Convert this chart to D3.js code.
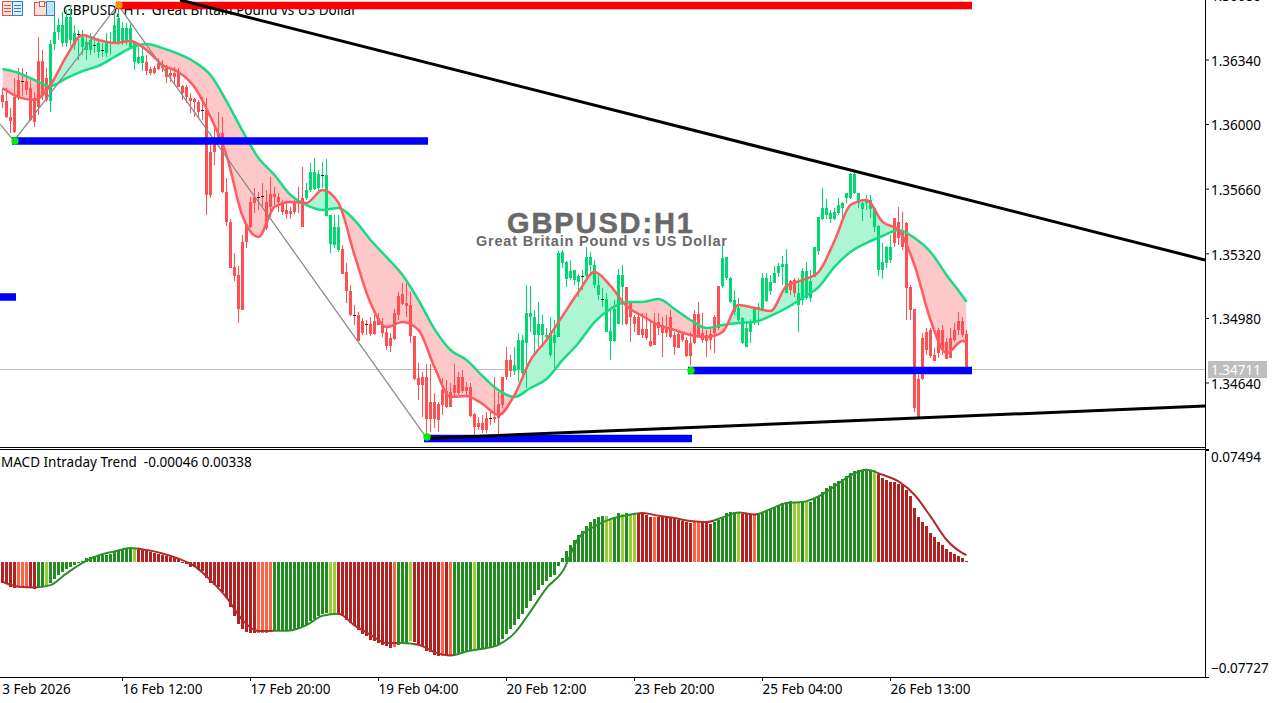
<!DOCTYPE html>
<html>
<head>
<meta charset="utf-8">
<title>GBPUSD H1</title>
<script src="https://cdn.jsdelivr.net/npm/d3@7"></script>
<style>
  html, body { margin: 0; padding: 0; background: #fff; overflow: hidden; }
  svg { display: block; font-family: "Noto Sans", sans-serif; }
  .axis text { font-family: "Noto Sans", sans-serif; font-size: 13.5px; fill: #000; }
  .axis line { stroke: #000; }
</style>
</head>
<body>
<div id="chart"></div>
<script>
// candles, one entry per H1 bar
const opens = [
1.36161,1.36129,1.36045,1.36150,1.36240,1.36235,1.36235,1.36198,1.36145,1.36340,
1.36340,1.36250,1.36129,1.36429,1.36493,1.36435,1.36435,1.36450,1.36424,1.36482,
1.36414,1.36398,1.36398,1.36424,1.36387,1.36398,1.36382,1.36440,1.36440,1.36440,
1.36440,1.36440,1.36408,1.36335,1.36329,1.36329,1.36335,1.36298,1.36303,1.36329,
1.36319,1.36314,1.36277,1.36277,1.36282,1.36208,1.36203,1.36145,1.36140,1.36124,
1.36082,1.36082,1.35861,1.35908,1.35961,1.35961,1.35650,1.35493,1.35256,1.35214,
1.35387,1.35477,1.35598,1.35624,1.35624,1.35629,1.35598,1.35640,1.35640,1.35624,
1.35593,1.35556,1.35550,1.35598,1.35603,1.35619,1.35619,1.35661,1.35666,1.35672,
1.35740,1.35524,1.35377,1.35372,1.35345,1.35350,1.35229,1.35129,1.35003,1.35003,
1.34972,1.34956,1.34956,1.34972,1.34987,1.34950,1.34914,1.34882,1.35014,1.35103,
1.35114,1.35066,1.35056,1.34893,1.34672,1.34677,1.34677,1.34545,1.34545,1.34535,
1.34608,1.34603,1.34598,1.34635,1.34677,1.34677,1.34624,1.34624,1.34482,1.34435,
1.34435,1.34461,1.34461,1.34466,1.34535,1.34677,1.34766,1.34766,1.34708,1.34714,
1.34698,1.34856,1.34993,1.34898,1.34898,1.34898,1.34887,1.34793,1.34856,1.34887,
1.35277,1.35193,1.35198,1.35187,1.35177,1.35208,1.35208,1.35266,1.35161,1.35108,
1.35087,1.34914,1.34866,1.34866,1.34956,1.35150,1.35150,1.35072,1.34993,1.34993,
1.34929,1.34929,1.34866,1.34966,1.34966,1.34950,1.34940,1.34993,1.34898,1.34903,
1.34903,1.34872,1.34856,1.35008,1.35008,1.34908,1.34898,1.34903,1.34993,1.35156,
1.35156,1.35198,1.35072,1.35019,1.34977,1.34856,1.34835,1.34914,1.34961,1.35029,
1.35035,1.35077,1.35129,1.35172,1.35224,1.35256,1.35119,1.35182,1.35187,1.35056,
1.35082,1.35093,1.35093,1.35203,1.35340,1.35508,1.35529,1.35508,1.35508,1.35540,
1.35566,1.35619,1.35619,1.35645,1.35593,1.35561,1.35593,1.35561,1.35466,1.35240,
1.35240,1.35277,1.35293,1.35514,1.35493,1.35451,1.35487,1.35150,1.35035,1.34666,
1.34882,1.34914,1.34924,1.34793,1.34924,1.34924,1.34861,1.34882,1.34924,1.34972,1.34972,1.34903];
const highs = [
1.36198,1.36198,1.36093,1.36250,1.36303,1.36303,1.36282,1.36240,1.36177,1.36466,
1.36398,1.36303,1.36450,1.36582,1.36566,1.36598,1.36608,1.36635,1.36529,1.36503,
1.36503,1.36477,1.36487,1.36466,1.36461,1.36435,1.36487,1.36493,1.36593,1.36635,
1.36545,1.36540,1.36540,1.36440,1.36414,1.36414,1.36372,1.36308,1.36314,1.36356,
1.36345,1.36319,1.36303,1.36308,1.36303,1.36214,1.36214,1.36172,1.36145,1.36135,
1.36150,1.36145,1.35940,1.36003,1.36072,1.36045,1.35724,1.35508,1.35329,1.35261,
1.35424,1.35477,1.35624,1.35672,1.35650,1.35698,1.35661,1.35729,1.35677,1.35645,
1.35608,1.35593,1.35572,1.35608,1.35677,1.35782,1.35698,1.35803,1.35829,1.35766,
1.35808,1.35824,1.35529,1.35529,1.35529,1.35372,1.35277,1.35161,1.35056,1.35019,
1.34987,1.34977,1.34993,1.35003,1.35014,1.34987,1.34935,1.34908,1.35035,1.35124,
1.35172,1.35172,1.35124,1.34893,1.34750,1.34703,1.34745,1.34745,1.34593,1.34545,
1.34672,1.34661,1.34645,1.34745,1.34703,1.34714,1.34650,1.34645,1.34487,1.34466,
1.34477,1.34493,1.34493,1.34677,1.34598,1.34677,1.34835,1.34793,1.34835,1.34908,
1.34898,1.35161,1.35156,1.35029,1.35072,1.35003,1.34935,1.34993,1.34977,1.35340,
1.35345,1.35287,1.35293,1.35240,1.35219,1.35240,1.35361,1.35335,1.35293,1.35214,
1.35145,1.35119,1.35040,1.35082,1.35245,1.35266,1.35150,1.35072,1.35003,1.35003,
1.35014,1.35014,1.34966,1.35014,1.35014,1.34993,1.35003,1.35029,1.34914,1.34924,
1.34914,1.34887,1.34914,1.35029,1.35072,1.35014,1.34924,1.34940,1.35003,1.35156,
1.35372,1.35308,1.35203,1.35135,1.35093,1.34993,1.34966,1.34982,1.35045,1.35066,
1.35224,1.35224,1.35214,1.35261,1.35277,1.35314,1.35350,1.35187,1.35198,1.35198,
1.35250,1.35282,1.35240,1.35361,1.35519,1.35672,1.35614,1.35556,1.35566,1.35619,
1.35598,1.35645,1.35750,1.35756,1.35645,1.35598,1.35635,1.35635,1.35572,1.35477,
1.35382,1.35366,1.35424,1.35514,1.35572,1.35545,1.35493,1.35161,1.35035,1.34687,
1.34908,1.34935,1.34935,1.34829,1.34935,1.34950,1.34882,1.34935,1.34961,1.35019,1.34993,1.34924];
const lows = [
1.36093,1.36040,1.35961,1.35961,1.36135,1.36156,1.36161,1.36024,1.35993,1.36056,
1.36135,1.36124,1.36072,1.36398,1.36450,1.36414,1.36414,1.36419,1.36398,1.36345,
1.36372,1.36345,1.36372,1.36382,1.36356,1.36361,1.36361,1.36372,1.36429,1.36424,
1.36424,1.36424,1.36408,1.36293,1.36324,1.36287,1.36266,1.36266,1.36272,1.36293,
1.36282,1.36224,1.36229,1.36214,1.36203,1.36135,1.36119,1.36066,1.36045,1.36040,
1.36029,1.35529,1.35619,1.35793,1.35935,1.35645,1.35472,1.35250,1.35182,1.34961,
1.35029,1.35356,1.35461,1.35540,1.35556,1.35572,1.35451,1.35519,1.35582,1.35545,
1.35529,1.35508,1.35508,1.35535,1.35540,1.35466,1.35608,1.35650,1.35661,1.35650,
1.35672,1.35524,1.35329,1.35356,1.35335,1.35219,1.35066,1.34998,1.34950,1.34866,
1.34898,1.34898,1.34893,1.34898,1.34950,1.34887,1.34819,1.34808,1.34872,1.34977,
1.35056,1.34993,1.34856,1.34661,1.34556,1.34466,1.34372,1.34387,1.34408,1.34387,
1.34477,1.34514,1.34519,1.34566,1.34582,1.34593,1.34582,1.34466,1.34372,1.34398,
1.34382,1.34382,1.34424,1.34435,1.34372,1.34514,1.34661,1.34677,1.34687,1.34650,
1.34687,1.34619,1.34914,1.34793,1.34835,1.34835,1.34861,1.34782,1.34724,1.34887,
1.35250,1.35150,1.35187,1.35161,1.35098,1.35135,1.35203,1.35214,1.35145,1.35082,
1.35045,1.34914,1.34766,1.34861,1.34956,1.34950,1.34950,1.34861,1.34914,1.34898,
1.34882,1.34872,1.34835,1.34845,1.34898,1.34782,1.34887,1.34882,1.34793,1.34829,
1.34861,1.34782,1.34740,1.34850,1.34882,1.34856,1.34782,1.34819,1.34803,1.34924,
1.35145,1.35187,1.35066,1.35003,1.34966,1.34850,1.34835,1.34856,1.34950,1.34950,
1.35029,1.35072,1.35108,1.35172,1.35203,1.35161,1.35119,1.35108,1.35098,1.34914,
1.35056,1.35082,1.35072,1.35203,1.35319,1.35503,1.35508,1.35487,1.35503,1.35529,
1.35503,1.35593,1.35614,1.35640,1.35566,1.35498,1.35556,1.35514,1.35440,1.35208,
1.35193,1.35250,1.35277,1.35361,1.35372,1.35345,1.34977,1.34977,1.34493,1.34461,
1.34661,1.34793,1.34777,1.34761,1.34777,1.34793,1.34772,1.34777,1.34861,1.34898,1.34887,1.34714];
const closes = [
1.36124,1.36045,1.36024,1.35966,1.36150,1.36235,1.36187,1.36029,1.36019,1.36098,
1.36161,1.36135,1.36429,1.36493,1.36529,1.36529,1.36572,1.36572,1.36487,1.36482,
1.36466,1.36440,1.36450,1.36424,1.36435,1.36398,1.36440,1.36440,1.36529,1.36566,
1.36514,1.36514,1.36514,1.36435,1.36361,1.36366,1.36287,1.36277,1.36277,1.36298,
1.36303,1.36256,1.36261,1.36256,1.36203,1.36172,1.36150,1.36129,1.36124,1.36072,
1.36082,1.35635,1.35635,1.35861,1.35940,1.35650,1.35493,1.35250,1.35208,1.35035,
1.35029,1.35387,1.35466,1.35593,1.35624,1.35629,1.35461,1.35572,1.35624,1.35598,
1.35545,1.35535,1.35535,1.35545,1.35598,1.35466,1.35661,1.35756,1.35756,1.35745,
1.35740,1.35740,1.35529,1.35466,1.35466,1.35219,1.35129,1.35003,1.35003,1.34866,
1.34908,1.34956,1.34903,1.34903,1.34950,1.34908,1.34840,1.34840,1.34877,1.35003,
1.35061,1.35050,1.34893,1.34666,1.34635,1.34635,1.34456,1.34456,1.34456,1.34451,
1.34529,1.34519,1.34519,1.34593,1.34593,1.34603,1.34603,1.34472,1.34414,1.34414,
1.34398,1.34398,1.34461,1.34456,1.34461,1.34529,1.34677,1.34708,1.34740,1.34872,
1.34872,1.35014,1.35014,1.34993,1.34956,1.34956,1.34898,1.34908,1.34898,1.35329,
1.35335,1.35282,1.35235,1.35240,1.35208,1.35208,1.35308,1.35308,1.35266,1.35161,
1.35087,1.35087,1.34919,1.35035,1.35214,1.35214,1.34956,1.34993,1.34956,1.34898,
1.34898,1.34882,1.34840,1.34845,1.34935,1.34908,1.34908,1.34887,1.34835,1.34829,
1.34872,1.34787,1.34787,1.34856,1.34887,1.34872,1.34866,1.34872,1.34908,1.34935,
1.35303,1.35308,1.35198,1.35082,1.35040,1.34987,1.34935,1.34961,1.35040,1.35045,
1.35198,1.35198,1.35177,1.35224,1.35261,1.35272,1.35272,1.35135,1.35119,1.35119,
1.35235,1.35235,1.35182,1.35361,1.35519,1.35566,1.35566,1.35540,1.35545,1.35582,
1.35593,1.35645,1.35745,1.35745,1.35645,1.35593,1.35608,1.35608,1.35566,1.35472,
1.35282,1.35361,1.35361,1.35382,1.35408,1.35361,1.35145,1.35029,1.34514,1.34466,
1.34666,1.34819,1.34787,1.34761,1.34803,1.34819,1.34772,1.34777,1.34872,1.34924,1.34898,1.34711];

// moving averages, read every 4th bar plus the last one
const maBars = d3.range(0, 241, 4).concat(241);
const fastMa = [
1.36198,1.36150,1.36135,1.36214,1.36366,1.36477,1.36450,1.36435,1.36445,1.36398,
1.36319,1.36282,1.36203,1.36045,1.35845,1.35524,1.35414,1.35572,1.35598,1.35593,
1.35661,1.35593,1.35319,1.35066,1.34940,1.34966,1.34924,1.34729,1.34572,1.34577,
1.34535,1.34477,1.34582,1.34766,1.34872,1.34998,1.35124,1.35229,1.35156,1.35050,
1.34998,1.34950,1.34924,1.34898,1.34887,1.34914,1.35056,1.35040,1.35024,1.35156,
1.35187,1.35229,1.35393,1.35582,1.35608,1.35493,1.35451,1.35266,1.34977,1.34803,
1.34866,1.34861];
const slowMa = [
1.36298,1.36277,1.36240,1.36208,1.36250,1.36287,1.36314,1.36361,1.36408,1.36429,
1.36408,1.36377,1.36335,1.36266,1.36129,1.35972,1.35829,1.35740,1.35635,1.35582,
1.35556,1.35566,1.35503,1.35398,1.35308,1.35214,1.35082,1.34929,1.34819,1.34766,
1.34682,1.34608,1.34572,1.34619,1.34666,1.34766,1.34856,1.34966,1.35035,1.35072,
1.35072,1.35087,1.35035,1.34977,1.34935,1.34950,1.34961,1.34966,1.34998,1.35040,
1.35093,1.35150,1.35256,1.35335,1.35382,1.35419,1.35451,1.35408,1.35335,1.35214,
1.35103,1.35072];

// MACD histogram
const macdHist = [
-0.01408,-0.01520,-0.01676,-0.01788,-0.01721,-0.01699,-0.01699,-0.01788,-0.01833,-0.01676,
-0.01676,-0.01632,-0.01453,-0.01185,-0.00894,-0.00715,-0.00492,-0.00335,-0.00201,-0.00067,
0.00045,0.00268,0.00291,0.00358,0.00380,0.00425,0.00469,0.00536,0.00626,0.00715,
0.00805,0.00872,0.00894,0.00872,0.00827,0.00782,0.00715,0.00626,0.00559,0.00492,
0.00425,0.00358,0.00291,0.00246,0.00179,-0.00067,-0.00179,-0.00335,-0.00380,-0.00559,
-0.00603,-0.01118,-0.01408,-0.01565,-0.01676,-0.02012,-0.02459,-0.03062,-0.03621,-0.04202,
-0.04537,-0.04694,-0.04761,-0.04761,-0.04761,-0.04761,-0.04761,-0.04716,-0.04626,-0.04582,
-0.04582,-0.04582,-0.04582,-0.04582,-0.04537,-0.04403,-0.04247,-0.03990,-0.03850,-0.03650,
-0.03500,-0.03442,-0.03487,-0.03487,-0.03554,-0.03665,-0.03889,-0.04112,-0.04336,-0.04559,
-0.04828,-0.05006,-0.05230,-0.05342,-0.05453,-0.05565,-0.05677,-0.05811,-0.05722,-0.05565,
-0.05498,-0.05453,-0.05342,-0.05409,-0.05565,-0.05722,-0.06012,-0.06079,-0.06236,-0.06325,
-0.06325,-0.06347,-0.06303,-0.06236,-0.06124,-0.06057,-0.05990,-0.05945,-0.05856,-0.05856,
-0.05833,-0.05811,-0.05766,-0.05677,-0.05520,-0.05185,-0.04828,-0.04515,-0.04224,-0.03844,
-0.03487,-0.03107,-0.02615,-0.02213,-0.01877,-0.01542,-0.01319,-0.01028,-0.00872,-0.00268,
0.00246,0.00738,0.01140,0.01475,0.01766,0.02079,0.02414,0.02660,0.02861,0.02973,
0.03062,0.03084,0.02861,0.02973,0.03263,0.03196,0.03241,0.03218,0.03218,0.03218,
0.03196,0.03151,0.02973,0.02973,0.02973,0.02973,0.02973,0.02928,0.02861,0.02771,
0.02727,0.02637,0.02570,0.02637,0.02637,0.02637,0.02593,0.02548,0.02660,0.02771,
0.02928,0.03263,0.03330,0.03330,0.03330,0.03218,0.03218,0.03151,0.03107,0.03218,
0.03330,0.03420,0.03531,0.03665,0.03777,0.03934,0.04001,0.04045,0.03934,0.03934,
0.03978,0.03978,0.04001,0.04202,0.04425,0.04671,0.04939,0.05096,0.05275,0.05409,
0.05543,0.05766,0.05945,0.06057,0.06124,0.06169,0.06169,0.06169,0.06124,0.05900,
0.05610,0.05498,0.05342,0.05319,0.05230,0.05118,0.04783,0.04381,0.03598,0.02995,
0.02637,0.02369,0.01922,0.01632,0.01319,0.01140,0.00849,0.00671,0.00536,0.00402,0.00246,0.00067];

// R falling, T falling slower, G rising, Y rising slower
const macdStates = ("RRRRTTTRRGGY" + "G".repeat(21) + "Y" + "R".repeat(30) + "TTTT" + "G".repeat(14) + "YY" +
  "R".repeat(14) + "TGGGY" + "R".repeat(7) + "TRT" + "GGGGGY" + "G".repeat(32) + "YYGGYGYY" + "RRRRT" +
  "R".repeat(9) + "TTRRR" + "G".repeat(6) + "YRRRT" + "G".repeat(9) + "YYGY" + "G".repeat(16) + "Y" + "R".repeat(23)).split("");

const macdLine = [
-0.01341,-0.01676,-0.01721,-0.01565,-0.00782,-0.00067,0.00425,0.00693,0.00916,0.00782,
0.00559,0.00201,-0.00291,-0.01229,-0.02391,-0.03911,-0.04649,-0.04626,-0.04604,-0.04247,
-0.03621,-0.03487,-0.04269,-0.04895,-0.05453,-0.05453,-0.05565,-0.06057,-0.06280,-0.06012,
-0.05833,-0.05565,-0.04783,-0.03330,-0.01766,-0.00648,0.01587,0.02369,0.02861,0.03107,
0.03263,0.03084,0.02928,0.02727,0.02660,0.02973,0.03308,0.03174,0.03531,0.03934,
0.04001,0.04381,0.05051,0.05789,0.06169,0.05833,0.05386,0.04492,0.03040,0.01475,
0.00581,0.00447];

const priceTicks = [1.3668, 1.3634, 1.36, 1.3566, 1.3532, 1.3498, 1.3464];
const macdTicks = [0.07494, -0.07727];
const timeBars = [-2, 30, 62, 94, 126, 158, 190, 222];
const timeLabels = ["13 Feb 2026", "16 Feb 12:00", "17 Feb 20:00", "19 Feb 04:00", "20 Feb 12:00", "23 Feb 20:00", "25 Feb 04:00", "26 Feb 13:00"];

const lastPrice = 1.34711;
// horizontal levels: from bar, to bar, price
const levelFrom = [29, 3, -1, 172, 106];
const levelTo = [242, 106, 3, 242, 172];
const levelPrice = [1.36632, 1.35919, 1.35098, 1.34711, 1.34353];
const levelColor = ["#ff0000", "#0000ff", "#0000ff", "#0000ff", "#0000ff"];
// trend lines and zigzag as [bar, price]
const upperTrend = [[44.5, 1.36661], [300.75, 1.35293]];
const lowerTrend = [[106, 1.34353], [300.75, 1.34524]];
const zigzag = [[-0.5, 1.36008], [3, 1.35919], [29, 1.36635], [106, 1.34361]];
const lowDots = [[3, 1.35919], [106, 1.34361], [172, 1.34711]];
const highDots = [[29, 1.36635]];

const width = 1282, height = 703;
const axisX = 1205, mainBottom = 447, subTop = 449, subBottom = 677;
const upCol = "#00d870", downCol = "#ff4f52";

const xBar = d3.scaleLinear().domain([0, 241]).range([2, 966]);
const yPrice = d3.scaleLinear().domain([1.3464, 1.3634]).range([384, 61]);
const yMacd = d3.scaleLinear().domain([-0.07727, 0.07494]).range([677, 450]);

const svg = d3.select("#chart").append("svg").attr("width", width).attr("height", height);
const defs = svg.append("defs");

defs.append("clipPath").attr("id", "mainClip").append("rect")
  .attr("x", 0).attr("y", 0).attr("width", axisX).attr("height", mainBottom);

const maData = maBars.map((b, i) => ({ b: b, fast: fastMa[i], slow: slowMa[i] }));
const px = d => xBar(d.b) + 0.5;

const aboveSlow = d3.area().curve(d3.curveMonotoneX).x(px).y0(0).y1(d => yPrice(d.slow));
const belowSlow = d3.area().curve(d3.curveMonotoneX).x(px).y0(mainBottom).y1(d => yPrice(d.slow));
defs.append("clipPath").attr("id", "aboveSlow").append("path").attr("d", aboveSlow(maData));
defs.append("clipPath").attr("id", "belowSlow").append("path").attr("d", belowSlow(maData));

const main = svg.append("g").attr("clip-path", "url(#mainClip)");

// watermark
main.append("text").attr("x", 507).attr("y", 233).attr("textLength", 186).attr("lengthAdjust", "spacing")
  .style("font-family", '"Liberation Sans", sans-serif').style("font-weight", "bold").style("font-size", "29px")
  .attr("fill", "#696969").attr("stroke", "#696969").attr("stroke-width", 0.5).text("GBPUSD:H1");
main.append("text").attr("x", 476).attr("y", 246).attr("textLength", 251).attr("lengthAdjust", "spacing")
  .style("font-family", '"Liberation Sans", sans-serif').style("font-weight", "bold").style("font-size", "14.5px")
  .attr("fill", "#696969").text("Great Britain Pound vs US Dollar");

// last price line
main.append("line").attr("x1", 0).attr("x2", axisX)
  .attr("y1", yPrice(lastPrice) - 1).attr("y2", yPrice(lastPrice) - 1)
  .attr("stroke", "#bdbdbd").attr("stroke-width", 1);

// band between the averages
const band = d3.area().curve(d3.curveMonotoneX).x(px).y0(d => yPrice(d.slow)).y1(d => yPrice(d.fast));
main.append("g").attr("clip-path", "url(#aboveSlow)").append("path")
  .attr("d", band(maData)).attr("fill", "#aef5d4");
main.append("g").attr("clip-path", "url(#belowSlow)").append("path")
  .attr("d", band(maData)).attr("fill", "#ffc8c8");

// chart title sits under the levels
main.append("text").attr("x", 63).attr("y", 15).style("font-size", "13.5px").attr("fill", "#000")
  .attr("xml:space", "preserve").text("GBPUSD, H1:  Great Britain Pound vs US Dollar");

// candles
const candleCols = [];
opens.forEach((o, i) => {
  const c = closes[i];
  candleCols.push(c > o ? upCol : c < o ? downCol : (i ? candleCols[i - 1] : downCol));
});
const candles = main.append("g").attr("shape-rendering", "crispEdges");
candles.selectAll(".wick").data(opens).enter().append("rect")
  .attr("class", "wick")
  .attr("x", (d, i) => xBar(i))
  .attr("width", 1)
  .attr("y", (d, i) => yPrice(highs[i]))
  .attr("height", (d, i) => yPrice(lows[i]) - yPrice(highs[i]))
  .attr("fill", (d, i) => candleCols[i]);
candles.selectAll(".body").data(opens).enter().append("rect")
  .attr("class", "body")
  .attr("x", (d, i) => xBar(i) - 1)
  .attr("width", 3)
  .attr("y", (d, i) => yPrice(Math.max(d, closes[i])))
  .attr("height", (d, i) => Math.max(1, Math.abs(yPrice(d) - yPrice(closes[i]))))
  .attr("fill", (d, i) => d === closes[i] ? "#222" : candleCols[i]);

// averages
const fastLine = d3.line().curve(d3.curveMonotoneX).x(px).y(d => yPrice(d.fast));
const slowLine = d3.line().curve(d3.curveMonotoneX).x(px).y(d => yPrice(d.slow));
main.append("path").attr("d", slowLine(maData)).attr("fill", "none").attr("stroke", "#14dc82").attr("stroke-width", 2.5);
main.append("path").attr("d", fastLine(maData)).attr("fill", "none").attr("stroke", "#ff5a5f").attr("stroke-width", 2.5);

// zigzag
const pts = d3.line().x(d => xBar(d[0])).y(d => yPrice(d[1]));
main.append("path").attr("d", pts(zigzag)).attr("fill", "none").attr("stroke", "#8c8c8c").attr("stroke-width", 1.3);

// levels
main.selectAll(".level").data(levelPrice).enter().append("rect")
  .attr("class", "level")
  .attr("x", (d, i) => xBar(levelFrom[i]) - 2)
  .attr("width", (d, i) => xBar(levelTo[i]) - xBar(levelFrom[i]) + 4)
  .attr("y", d => yPrice(d) - 3.75)
  .attr("height", 7.5)
  .attr("fill", (d, i) => levelColor[i]);

// trend lines
[upperTrend, lowerTrend].forEach(t => {
  main.append("path").attr("d", pts(t)).attr("fill", "none").attr("stroke", "#000").attr("stroke-width", 3);
});

main.selectAll(".lowDot").data(lowDots).enter().append("circle")
  .attr("cx", d => xBar(d[0]) + 1).attr("cy", d => yPrice(d[1])).attr("r", 3.7).attr("fill", "#00ee00");
main.selectAll(".highDot").data(highDots).enter().append("circle")
  .attr("cx", d => xBar(d[0]) + 1).attr("cy", d => yPrice(d[1])).attr("r", 3.7).attr("fill", "#ff8c00");

// toolbar icons
const icons = svg.append("g").attr("shape-rendering", "crispEdges");
icons.append("rect").attr("x", 2.5).attr("y", 1.5).attr("width", 10).attr("height", 14).attr("fill", "#fde0dc").attr("stroke", "#d9534f");
icons.append("rect").attr("x", 12.5).attr("y", 1.5).attr("width", 10).attr("height", 14).attr("fill", "#dceeff").attr("stroke", "#2f7fc1");
[5, 8, 11].forEach(y => {
  icons.append("line").attr("x1", 4).attr("x2", 11).attr("y1", y + 0.5).attr("y2", y + 0.5).attr("stroke", "#d9534f");
  icons.append("line").attr("x1", 14).attr("x2", 21).attr("y1", y + 0.5).attr("y2", y + 0.5).attr("stroke", "#2f7fc1");
});
icons.append("rect").attr("x", 34.5).attr("y", 2.5).attr("width", 12).attr("height", 13).attr("fill", "#fde0dc").attr("stroke", "#d9534f");
icons.append("rect").attr("x", 46.5).attr("y", 1.5).attr("width", 8).attr("height", 14).attr("fill", "#bfe3ff").attr("stroke", "#2f7fc1");
icons.append("rect").attr("x", 39.5).attr("y", 1.5).attr("width", 5).attr("height", 5).attr("fill", "#fff").attr("stroke", "#d9534f");

// MACD panel
const stateCol = { R: "#b22222", T: "#ff6347", G: "#228b22", Y: "#9acd32" };
const sub = svg.append("g");
sub.append("g").attr("shape-rendering", "crispEdges").selectAll("rect").data(macdHist).enter().append("rect")
  .attr("x", (d, i) => xBar(i) - 1)
  .attr("width", 3)
  .attr("y", d => yMacd(Math.max(0, d)))
  .attr("height", d => Math.max(1, Math.abs(yMacd(d) - yMacd(0))))
  .attr("fill", (d, i) => stateCol[macdStates[i]]);

// line colour follows the histogram state
const grad = defs.append("linearGradient").attr("id", "macdGrad").attr("gradientUnits", "userSpaceOnUse")
  .attr("x1", xBar(0)).attr("x2", xBar(241)).attr("y1", 0).attr("y2", 0);
const lineCol = s => (s === "G" || s === "Y") ? "#2a8f2a" : "#b22a2a";
macdStates.forEach((s, i) => {
  grad.append("stop").attr("offset", i / 241).attr("stop-color", lineCol(s));
  if (i < 241) grad.append("stop").attr("offset", (i + 1) / 241).attr("stop-color", lineCol(s));
});
const macdPath = d3.line().curve(d3.curveMonotoneX).x((d, i) => xBar(maBars[i]) + 0.5).y(d => yMacd(d));
sub.append("path").attr("d", macdPath(macdLine)).attr("fill", "none").attr("stroke", "url(#macdGrad)").attr("stroke-width", 2);

sub.append("text").attr("x", 1).attr("y", 467).style("font-size", "13.5px").attr("fill", "#000")
  .attr("xml:space", "preserve").text("MACD Intraday Trend  -0.00046 0.00338");

// frame
const frame = svg.append("g").attr("shape-rendering", "crispEdges").attr("stroke", "#000");
frame.append("line").attr("x1", axisX + 0.5).attr("x2", axisX + 0.5).attr("y1", 0).attr("y2", subBottom);
frame.append("line").attr("x1", 0).attr("x2", axisX).attr("y1", mainBottom + 0.5).attr("y2", mainBottom + 0.5);
frame.append("line").attr("x1", 0).attr("x2", axisX + 4).attr("y1", subTop + 0.5).attr("y2", subTop + 0.5);
frame.append("line").attr("x1", 0).attr("x2", axisX + 4).attr("y1", subBottom + 0.5).attr("y2", subBottom + 0.5);

// price axis
const priceAxis = svg.append("g").attr("class", "axis").attr("transform", `translate(${axisX},0)`)
  .call(d3.axisRight(yPrice).tickValues(priceTicks).tickFormat(d3.format(".5f")).tickSize(4).tickPadding(2));
priceAxis.select(".domain").remove();
priceAxis.selectAll("line").attr("transform", "translate(0,-1.5)");

// last price tag
svg.append("rect").attr("x", 1208).attr("y", 361).attr("width", 59).attr("height", 17).attr("fill", "#bebebe");
svg.append("text").attr("x", 1211).attr("y", 374.5).style("font-size", "13.5px").attr("fill", "#fff").text(d3.format(".5f")(lastPrice));

// MACD axis
const macdAxis = svg.append("g").attr("class", "axis").attr("transform", `translate(${axisX},0)`)
  .call(d3.axisRight(yMacd).tickValues(macdTicks).tickFormat(d3.format(".5f")).tickSize(4).tickPadding(2));
macdAxis.select(".domain").remove();
macdAxis.selectAll("text").attr("transform", d => `translate(0,${d > 0 ? 7 : -9})`);

// time axis
const timeAxis = svg.append("g").attr("class", "axis").attr("transform", `translate(0,${subBottom})`)
  .call(d3.axisBottom(xBar).tickValues(timeBars).tickFormat((d, i) => timeLabels[i]).tickSize(4).tickPadding(3));
timeAxis.select(".domain").remove();
timeAxis.selectAll("text").attr("text-anchor", "start").attr("dx", 0);
</script>
</body>
</html>
